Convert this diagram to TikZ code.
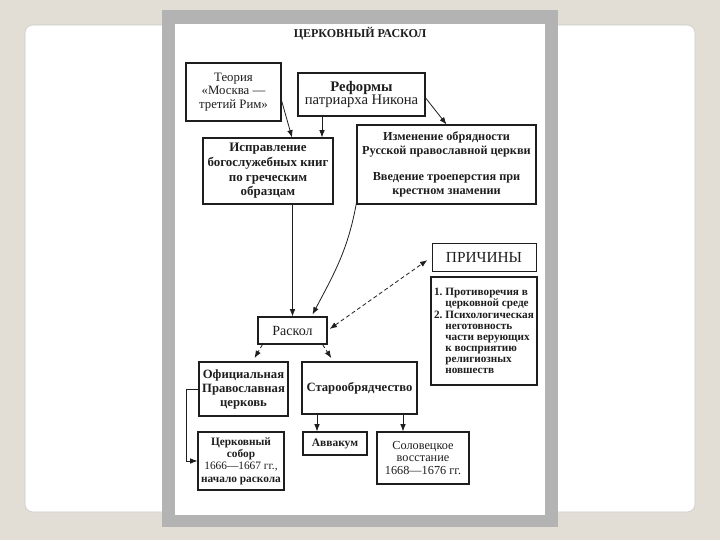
\documentclass[tikz,border=0pt]{standalone}
\usepackage{fontspec}
\setmainfont{Liberation Serif}
\usepackage{xcolor}
\usetikzlibrary{positioning,arrows.meta,calc}

\definecolor{ink}{HTML}{1E1E1E}
\definecolor{slidebg}{HTML}{E3DED5}
\definecolor{framegray}{HTML}{B3B3B3}
\definecolor{cardline}{HTML}{C9C9C9}

\begin{document}
\begin{tikzpicture}[x=0.75pt,y=-0.75pt,>={Latex[length=5.5pt,width=4.2pt]},
  box/.style={draw=ink,line width=0.8pt,align=center,inner sep=1pt,text=ink},
  arr/.style={->,draw=ink,line width=0.6pt}]
  % slide background, card and scan frame
  \useasboundingbox[fill=slidebg] (0,0) rectangle (720,540);
  \draw[cardline,fill=white,rounded corners=6] (25,25) rectangle (695,512);
  \fill[framegray] (162,10) rectangle (558,527);
  \fill[white] (175,24) rectangle (545,515);

  % title
  \node[text=ink,font=\bfseries\fontsize{9}{10}\selectfont] (title) at (360,34) {ЦЕРКОВНЫЙ РАСКОЛ};

  % top row
  \node[box,minimum width=71.25pt,minimum height=43.5pt,font=\fontsize{9.6}{10.2}\selectfont] (theory) at (233.5,92) {Теория\\«Москва —\\третий Рим»};
  \node[box,minimum width=95.25pt,minimum height=32.25pt,font=\fontsize{11}{10}\selectfont] (reform) at (361.5,94.5) {\textbf{Реформы}\\патриарха Никона};

  % second row
  \node[box,minimum width=97.5pt,minimum height=49.5pt,font=\bfseries\fontsize{9.7}{11}\selectfont] (fix) at (268,171) {Исправление\\богослужебных книг\\по греческим\\образцам};
  \node[box,minimum width=134.25pt,minimum height=59.25pt,font=\bfseries\fontsize{9.2}{10.5}\selectfont] (rite) at (446.5,164.5) {Изменение обрядности\\Русской православной церкви\\[9pt]Введение троеперстия при\\крестном знамении};

  % causes on the right
  \node[box,line width=0.5pt,minimum width=78pt,minimum height=21pt,font=\fontsize{11.5}{12}\selectfont] (causes) at (484,257) {ПРИЧИНЫ};
  \node[box,align=left,minimum width=79.5pt,minimum height=81pt,inner sep=2pt,font=\bfseries\fontsize{8.4}{8.3}\selectfont] (reasons) at (484,331)
    {\makebox[1em][l]{1.}Противоречия в\\\hspace*{1em}церковной среде\\\makebox[1em][l]{2.}Психологическая\\\hspace*{1em}неготовность\\\hspace*{1em}части верующих\\\hspace*{1em}к восприятию\\\hspace*{1em}религиозных\\\hspace*{1em}новшеств};

  % schism and its results
  \node[box,minimum width=51.75pt,minimum height=20.25pt,font=\fontsize{10.5}{11}\selectfont] (schism) at (292.5,330.5) {Раскол};
  \node[box,minimum width=66.75pt,minimum height=40.5pt,font=\bfseries\fontsize{9.5}{10.5}\selectfont] (official) at (243.5,389) {Официальная\\Православная\\церковь};
  \node[box,minimum width=86.25pt,minimum height=39pt,font=\bfseries\fontsize{9.5}{10.5}\selectfont] (oldbel) at (359.5,388) {Старообрядчество};

  % bottom row
  \node[box,minimum width=64.5pt,minimum height=43.5pt,font=\fontsize{8.5}{9.2}\selectfont] (council) at (241,461) {\textbf{Церковный}\\\textbf{собор}\\1666—1667 гг.,\\\textbf{начало раскола}};
  \node[box,minimum width=48pt,minimum height=17.25pt,font=\bfseries\fontsize{8.6}{9}\selectfont] (avvakum) at (335,443.5) {Аввакум};
  \node[box,minimum width=69pt,minimum height=39pt,font=\fontsize{9.2}{9.4}\selectfont] (solov) at (423,458) {Соловецкое\\восстание\\1668—1676 гг.};

  % entry points
  \coordinate (fixin) at ($(fix.north)+(54,0)$);
  \coordinate (avvin) at ($(avvakum.north)+(-18,0)$);
  \coordinate (solin) at ($(solov.north)+(-20,0)$);

  \draw[arr] (theory.-10) -- ($(fix.north)+(24,0)$);
  \draw[arr] (fixin |- reform.south) -- (fixin);
  \draw[arr] (reform.-3) -- (rite.north);
  \draw[arr] (schism.north |- fix.south) -- (schism.north);
  \draw[arr] ($(rite.south west)+(0,-2)$) to[out=-100,in=62] ($(schism.north)+(20,-2)$);
  \draw[arr,<->,densely dashed,shorten <=2pt,shorten >=4pt] (schism.east) -- (causes.west);
  \draw[arr,densely dashed,shorten >=3pt] ($(schism.south west)+(5,0)$) -- ($(official.north)+(9,0)$);
  \draw[arr,densely dashed,shorten >=3pt] ($(schism.south east)+(-5,0)$) -- ($(oldbel.north)+(-26,0)$);
  \draw[arr] (official.west) -- ++(-12,0) |- (council.west);
  \draw[arr] (avvin |- oldbel.south) -- (avvin);
  \draw[arr] (solin |- oldbel.south) -- (solin);
\end{tikzpicture}
\end{document}
